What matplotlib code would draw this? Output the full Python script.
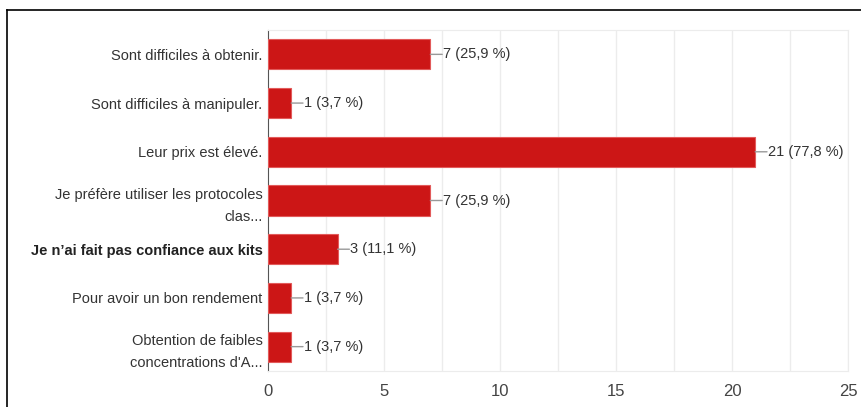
import matplotlib.pyplot as plt
from matplotlib.lines import Line2D

# donnees
labels = ["Sont difficiles à obtenir.",
          "Sont difficiles à manipuler.",
          "Leur prix est élevé.",
          "Je préfère utiliser les protocoles\nclas...",
          "Je n’ai fait pas confiance aux kits",
          "Pour avoir un bon rendement",
          "Obtention de faibles\nconcentrations d'A..."]
counts = [7, 1, 21, 7, 3, 1, 1]
pcts = ["25,9", "3,7", "77,8", "25,9", "11,1", "3,7", "3,7"]
xticks = [0, 5, 10, 15, 20, 25]

plt.rcParams['font.family'] = ['Liberation Sans', 'DejaVu Sans']

fig = plt.figure(figsize=(8.61, 4.07), dpi=100)
ax = fig.add_axes([268/861, 1-371/407, (848-268)/861, (371-30)/407])

y = list(range(len(labels)))
ax.barh(y, counts, height=0.62, color='#cc1616', edgecolor='#e25a5a', linewidth=0.8, zorder=3)
ax.set_ylim(len(labels)-0.5, -0.5)
ax.set_xlim(0, 25)

# grille tous les 2,5
for gx in [i*2.5 for i in range(1, 11)]:
    ax.axvline(gx, color='#ececec', lw=1, zorder=1)
ax.set_xticks(xticks)
ax.set_xticklabels([str(t) for t in xticks], color='#444444', fontsize=12)
ax.set_yticks(y)
ax.set_yticklabels(labels, color='#333333', fontsize=10.5, linespacing=1.75)
for t in ax.get_yticklabels():
    if t.get_text().startswith("Je n"):
        t.set_fontweight('bold')
        t.set_color('#222222')
ax.tick_params(length=0, pad=4)
ax.tick_params(axis='x', pad=9)

for s in ['top', 'right', 'bottom']:
    ax.spines[s].set_color('#ececec')
ax.spines['left'].set_color('#555555')

# etiquettes de valeurs avec petit trait
for yi, c, p in zip(y, counts, pcts):
    ax.annotate("", xy=(c, yi), xytext=(8.5, 0), textcoords='offset points',
                arrowprops=dict(arrowstyle='-', color='#999999', lw=1, shrinkA=0, shrinkB=0))
    ax.annotate(f"{c} ({p} %)", xy=(c, yi), xytext=(9, 0), textcoords='offset points',
                va='center', ha='left', fontsize=10.5, color='#333333')

# cadre noir autour
fig.add_artist(Line2D([7/861, 7/861], [0, 1-10/407], color='black', lw=1.2))
fig.add_artist(Line2D([7/861, 1], [1-10/407, 1-10/407], color='black', lw=1.2))

fig.savefig("out.png", dpi=100)
